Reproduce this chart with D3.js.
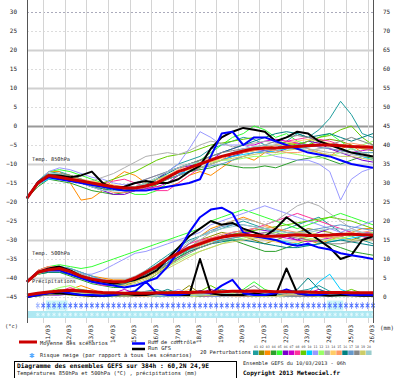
<!DOCTYPE html>
<html><head><meta charset="utf-8">
<script src="https://cdn.jsdelivr.net/npm/d3@7"></script>
<style>body{margin:0;background:#fff}svg{display:block}text{font-family:"DejaVu Sans Mono",monospace}</style>
</head><body><svg id="c" width="400" height="378"></svg>
<script>
// ---------- DATA ----------
const hours = d3.range(0, 385, 12);                // 10/03 06h + 0..384h
const dayLabels = ["11/03","12/03","13/03","14/03","15/03","16/03","17/03","18/03","19/03","20/03","21/03","22/03","23/03","24/03","25/03","26/03"];
const dayHours = d3.range(18, 385, 24);             // 00h of each day
const leftTicks = [30,25,20,15,10,5,0,-5,-10,-15,-20,-25,-30,-35,-40,-45];
const rightTicks = [75,70,65,60,55,50,45,40,35,30,25,20,15,10,5,0];
const memberColors = ["#1f9e9e","#8c8c00","#ff8c00","#2ca02c","#33ff33","#7a00cc","#cc00cc","#ff3399","#66cc00","#00ccff","#9999ff","#99ff66","#b0b0b0","#ffcc66","#ff9966","#008080","#6699cc","#888888","#cccc66","#99cccc"];

const t850Mean = [-19,-15,-13,-13.5,-14,-14.5,-15,-15.5,-16,-16.3,-16.3,-15.8,-15,-13.5,-12,-11,-10,-9,-8,-7.3,-6.6,-6,-5.8,-5.8,-5.6,-5.4,-5.2,-5,-5,-5.2,-5.4,-5.5,-5.6];
const t850Control = [-19,-15,-13.5,-14,-14.5,-15,-15.5,-16,-16.5,-17,-17,-17,-16.5,-16,-15.5,-15,-14,-8,-2,-1.5,-5,-3,-3,-4,-5,-6,-7,-7.5,-8,-9,-10,-10.5,-11];
const t850Gfs = [-19,-15,-13,-13,-13.5,-13,-12,-15,-16.5,-16,-15,-14.5,-15,-15,-14,-12,-10.5,-6,-3,-1.5,-0.5,-1,-1.5,-4,-3,-1.5,-2,-4,-5,-6,-7,-7.5,-8];
const t850Members = [
[-19,-15,-12.5,-12,-13,-14,-15,-16,-17,-17,-16,-15,-14,-12,-10,-9,-8,-6,-5,-4,-3,-3.5,-5,-6,-4,-2,-3,-1,2,6.5,3,-2,-3],
[-19,-15.5,-13.5,-14,-14.5,-15,-15.5,-16,-16.5,-17,-17,-16,-15,-14,-13,-12,-11,-10,-9,-8,-7,-6.5,-6,-5,-5.5,-6,-5,-4,-3.5,-4,-5,-6,-6.5],
[-19,-15,-12,-12,-15,-19.5,-19,-17,-14,-12,-13,-15,-16,-16,-15,-13,-12,-13,-11,-9,-8,-9,-7,-6,-5,-4.5,-6,-7,-8,-6,-5,-7,-8],
[-19,-16,-14,-14.5,-15,-16,-17,-17.5,-18,-17.5,-17,-16.5,-15.5,-14,-13,-12,-11.5,-11,-10,-10.5,-11,-11,-10.5,-11,-10,-9,-8.5,-8,-9,-10,-9,-8,-8.5],
[-19,-14.5,-12,-11.5,-12,-13,-14,-15,-16,-17,-18,-18,-17,-15,-13,-11,-9,-7,-5,-3,-2,0,-1,-3,-2,-4,-5,-3,-2,-4,-6,-7,-7],
[-19,-15,-13,-13,-14,-15,-16,-17,-18,-18,-17,-16,-14,-12,-11,-10.5,-10,-9,-8,-8,-7,-6,-6.5,-7,-6,-5,-4,-4.5,-6,-7,-8,-9,-9.5],
[-19,-15,-13.5,-14,-14,-14.5,-15,-15.5,-16,-16.5,-17,-16.5,-16,-15,-13,-11,-10,-9,-7,-6,-5,-5,-4,-3.5,-4,-4.5,-5,-5.5,-6,-6.5,-7,-6.5,-6],
[-19,-14.5,-12.5,-12.5,-13,-14,-15,-15,-14.5,-14,-15,-16,-17,-17,-15,-13,-11,-10,-9,-7,-6,-6,-5.5,-5,-4,-3.5,-3,-3.5,-4,-5,-5.5,-5,-5.5],
[-19,-15,-13,-12.5,-13,-14,-15,-15,-14,-13,-12,-10.5,-9,-8,-7.5,-7,-6,-5,-4.5,-4,-3.5,-3,-3,-4,-4.5,-5,-4,-3,-2.5,-1,0,-3,-5],
[-19,-15.5,-14,-14,-14.5,-15,-15.5,-16,-16.5,-16.5,-16,-15,-14,-13,-12.5,-12,-11,-10,-9,-8,-7.5,-7,-7,-6.5,-6,-6,-5.5,-5,-5,-6,-7,-8,-9],
[-19,-14.5,-12,-11,-11.5,-12.5,-13.5,-14,-15,-15.5,-15,-14,-13,-12,-10,-6,-1.5,-3,-5,-5,-5,-6,-7,-8,-8.5,-9,-9,-10,-12,-19.5,-14,-12,-11],
[-19,-15,-13,-13,-13.5,-14,-15,-16,-16,-16.5,-16.5,-16,-15,-13.5,-12,-11,-10,-9.5,-9,-9,-8.5,-8,-8,-7.5,-7,-7.5,-8,-8.5,-8,-7,-6,-5,-4],
[-19,-15,-13,-13.5,-14.5,-15,-14.5,-13.5,-12.5,-11,-9.5,-8,-7.5,-7,-7.5,-6.5,-5,-4,-4.5,-5.5,-5,-4.5,-4,-4.5,-5,-5.5,-6,-6.5,-7,-7,-7.5,-8,-8],
[-19,-15.5,-13.5,-13,-13.5,-14,-14.5,-15,-15.5,-16,-16,-15.5,-14.5,-13,-12,-11,-10,-9.5,-8.5,-7.5,-6.5,-6,-5.5,-5,-4.5,-4,-3.5,-4,-4.5,-5,-5.5,-6,-6],
[-19,-15,-13,-13.5,-14,-14.5,-15.5,-16.5,-17.5,-17.5,-17,-16,-14.5,-13,-11.5,-10,-9,-8.5,-8,-7.5,-7,-6.5,-6,-6.5,-7,-7,-6.5,-6,-5.5,-5,-4.5,-5,-5.5],
[-19,-14.5,-12.5,-13,-14,-15,-16,-16.5,-17,-17,-16.5,-15.5,-14,-12.5,-11,-10,-9,-8,-7,-6,-5,-4,-3,-2,-1.5,-2,-3,-2.5,-2,-3,-4,-3,-2],
[-19,-15,-13.5,-13.5,-14,-14.5,-15,-15.5,-16,-16,-16,-15.5,-15,-14,-13,-12,-11,-10.5,-10,-9,-8,-7,-6.5,-6,-5.5,-5,-5,-5.5,-6,-6.5,-7,-7,-7],
[-19,-15.5,-13,-12.5,-13,-14,-15,-15.5,-16,-16,-15,-14,-13,-12,-11,-10,-9,-8,-7,-6.5,-6,-5.5,-5,-4,-3,-2.5,-3,-4,-5,-4,-3,-4,-5],
[-19,-15,-13,-13,-13.5,-14.5,-15.5,-16,-16.5,-16.5,-16,-15,-14,-13,-12,-11.5,-11,-10,-9,-8.5,-8,-7.5,-7,-7,-6.5,-6,-6.5,-7,-7.5,-8,-8,-8.5,-9],
[-19,-15,-12.5,-12.5,-13.5,-15,-16,-17,-17,-16.5,-16,-15,-13.5,-12,-11,-10,-9.5,-9,-8,-7,-6,-5.5,-5,-5,-5.5,-6,-6.5,-6,-5.5,-5,-6,-7,-8]
];

const t500Mean = [-41,-38.5,-37.8,-37.5,-38.3,-39.5,-40.3,-40.8,-41,-41,-40,-38.5,-37,-35,-33.5,-32,-31,-30,-29.3,-28.8,-28.6,-28.8,-29,-29,-28.8,-28.6,-28.8,-28.8,-28.7,-28.5,-28.5,-28.6,-28.7];
const t500Control = [-41,-38.5,-38,-38,-39,-40,-41,-41.5,-42,-42.5,-42,-41,-40,-37,-33,-28,-24,-22,-21.5,-23,-28,-29,-29.5,-30,-31,-31.5,-31,-32,-32.5,-33.5,-34,-34.5,-35];
const t500Gfs = [-41,-38.5,-37.5,-37,-38,-39.5,-40.5,-41,-41.5,-41,-40.5,-39.5,-38,-35,-32,-29,-27,-25,-26,-25.5,-27,-28,-29,-27,-24,-26,-28,-30,-32,-35,-34,-30,-29];
const t500Members = [
[-41,-38.5,-37.5,-37,-38,-39,-40,-41,-41.5,-41,-40,-38,-36,-34,-32,-30,-29,-28,-27,-26,-25,-26,-27,-28,-27,-26,-25,-24,-26,-28,-29,-30,-31],
[-41,-39,-38,-38,-39,-40,-41,-41.5,-42,-42,-41,-39.5,-38,-36,-34,-32,-30,-29,-28,-28.5,-29,-30,-31,-30,-29,-28,-27,-27.5,-28,-29,-30,-29,-28],
[-41,-38,-37,-37,-37.5,-38.5,-39.5,-40,-40.5,-40.5,-40,-39,-37.5,-35,-33,-31,-29,-27,-26,-25,-24,-25,-26,-27,-28,-29,-30,-31,-30,-29,-28,-27,-27],
[-41,-39,-38.5,-38.5,-39.5,-40.5,-41.5,-42,-42.5,-42.5,-42,-41,-39,-37,-35,-33,-32,-31,-30,-30,-31,-32,-33,-33,-32,-31,-30,-30.5,-31,-32,-33,-33.5,-34],
[-41,-38,-37,-36.5,-37,-37.5,-37,-36,-35,-34,-33,-32,-31,-30,-29,-28,-27,-25,-24,-23,-22,-23,-24,-25,-26,-27,-26,-25,-24,-23,-24,-25,-26],
[-41,-38.5,-37.5,-37.5,-38.5,-39.5,-40.5,-41,-41.5,-41.5,-41,-40,-38.5,-37,-35,-33,-31.5,-30,-29,-28,-27.5,-27,-27.5,-28,-29,-30,-29,-28,-27,-27,-28,-29,-30],
[-41,-38.5,-38,-38,-38.5,-39,-40,-40.5,-41,-41,-40.5,-39.5,-38,-36,-34,-32,-30.5,-29.5,-29,-28.5,-28,-28,-28.5,-29,-29.5,-30,-30.5,-30,-29.5,-29,-28.5,-28,-28],
[-41,-38,-37,-37,-38,-39.5,-41,-42,-42,-41.5,-40.5,-39,-37,-35,-33,-31,-30,-29.5,-29,-29,-28,-27,-26,-25,-24,-23,-24,-25,-26,-27,-28,-29,-30],
[-41,-39,-38,-37.5,-38,-39,-40,-41,-41.5,-41.5,-41,-40,-38.5,-36.5,-34.5,-32.5,-31,-30,-29,-28.5,-28,-27.5,-27,-26.5,-26,-25.5,-25,-24.5,-24,-24.5,-25,-26,-27],
[-41,-38.5,-37.5,-37,-37.5,-38.5,-39.5,-40.5,-41,-41,-40,-38.5,-37,-35.5,-34,-32.5,-31.5,-30.5,-30,-29.5,-29,-29,-29.5,-30,-30.5,-31,-31.5,-31,-30.5,-30,-29.5,-29,-29],
[-41,-38,-37.5,-37.5,-38,-39,-39,-38,-36.5,-35,-33.5,-33,-32,-31,-30,-29,-28,-26,-25,-24,-23,-22,-21,-22,-23,-24,-25,-26,-27,-28,-27,-26,-25],
[-41,-39,-38,-38,-38.5,-39.5,-40.5,-41,-41.5,-41.5,-41,-40,-38.5,-37,-35.5,-34,-33,-32,-31,-30,-29.5,-29,-28.5,-28,-28.5,-29,-29.5,-30,-30,-29.5,-29,-28.5,-28],
[-41,-38.5,-37.5,-37.5,-38.5,-39.5,-40.5,-41,-41,-40.5,-39.5,-38,-36.5,-35,-33.5,-32,-30,-28,-26,-25,-24.5,-25,-26,-25,-23,-21,-20,-21,-23,-25,-27,-28,-29],
[-41,-38.5,-38,-38,-38.5,-39.5,-40.5,-41,-41.5,-41.5,-41,-40,-38.5,-37,-35,-33,-31.5,-30.5,-29.5,-29,-29,-29.5,-30,-30.5,-31,-30.5,-30,-29.5,-29,-28.5,-28,-28.5,-29],
[-41,-38,-37,-37,-38,-39,-40,-40.5,-41,-41,-40.5,-39.5,-38,-36,-34,-32,-30.5,-29.5,-28.5,-28,-27.5,-27,-26.5,-27,-27.5,-28,-28.5,-29,-29.5,-29,-28.5,-28,-27.5],
[-41,-39,-38.5,-38.5,-39,-40,-41,-41.5,-42,-41.5,-40.5,-39,-37.5,-36,-34.5,-33,-32,-31,-30.5,-30,-30,-30.5,-31,-31.5,-32,-32,-31.5,-31,-30.5,-30,-30.5,-31,-31.5],
[-41,-38.5,-37.5,-37,-37.5,-38.5,-39.5,-40.5,-41,-41,-40.5,-39.5,-38,-36,-33.5,-31,-29,-27.5,-26.5,-26,-26,-26.5,-27,-27.5,-28,-28,-27.5,-27,-26.5,-26,-26.5,-27,-27.5],
[-41,-38.5,-37.5,-37.5,-38,-39,-40,-40.5,-41,-41,-40.5,-39.5,-38,-36.5,-35,-33.5,-32,-31,-30,-29.5,-29,-28.5,-28,-28.5,-29,-29.5,-30,-30.5,-31,-31,-30.5,-30,-29.5],
[-41,-39,-38,-38,-39,-40,-41,-41.5,-42,-42,-41.5,-40.5,-39,-37.5,-36,-34.5,-33,-32,-31,-30.5,-30,-29.5,-29,-29,-28.5,-28,-28,-28.5,-29,-29.5,-30,-30,-30],
[-41,-38.5,-37.5,-37.5,-38,-39,-40,-41,-41.5,-41,-40,-38.5,-36.5,-34.5,-32.5,-30.5,-29,-28,-27,-26.5,-26,-26.5,-27,-27.5,-28,-28.5,-28,-27.5,-27,-27,-27.5,-28,-28.5]
];

const precipMean = [0.5,1,1.3,1.6,1.8,1.6,1.4,1.2,1.1,1,1,1,1.1,1.1,1.2,1.2,1.3,1.3,1.4,1.5,1.5,1.6,1.5,1.4,1.4,1.3,1.3,1.2,1.2,1.2,1.1,1.1,1.1];
const precipControl = [0,0.5,1,1.5,1,0.5,0.5,0.3,0.5,1,1.5,4,1,0.5,0.5,1,1.5,1,3,4.5,1,0.5,0.5,1,2,1,0.5,0.5,1,1,0.5,0.5,0.5];
const precipGfs = [0,0.5,1,1,0.8,0.5,0.3,0.3,0.5,0.8,0.5,0.5,1,1,0.5,0.5,10,1,0.5,0.5,0.5,1,0.5,0.5,7.5,1,0.5,0.5,0.3,0.5,0.5,0.3,0.3];
const precipMembers = [
[0,0.3,0.8,1.2,1.5,1,0.5,0.3,0.2,0.3,0.8,1.5,2,1,0.5,0.3,0.5,1,2,1.5,1,0.5,0.3,0.5,1,1.5,2,3,1.5,1,0.5,0.5,0.3],
[0,0.5,1,0.8,0.5,0.3,0.2,0.2,0.3,0.5,0.5,0.3,0.2,0.5,1,3,1,0.5,0.3,0.2,0.5,1,0.8,0.5,0.3,0.5,1,0.8,0.5,0.3,0.2,0.3,0.5],
[0,0.4,0.6,1,2,3,2,1,0.5,0.3,0.2,0.2,0.5,1,0.5,0.3,0.2,0.5,0.8,0.5,0.3,0.3,0.5,1,2,1,0.5,0.3,0.2,0.3,0.5,0.8,1],
[0,0.3,0.5,0.8,1,0.8,0.5,0.3,0.5,1,1.5,1,0.5,0.3,0.2,0.3,0.5,0.8,0.5,0.3,0.2,0.5,1,0.5,0.3,0.2,0.3,0.5,0.3,0.2,0.3,0.5,0.3],
[0,0.6,1.2,2,1.5,1,0.5,0.3,0.2,0.2,0.3,0.5,1,1.5,1,0.5,0.3,0.2,0.5,1,2,4,2,1,0.5,0.3,0.5,1,1.5,1,0.5,0.3,0.3],
[0,0.3,0.5,0.5,0.8,1,1.5,1,0.5,0.3,0.2,0.3,0.5,0.3,0.2,0.3,1,2,1,0.5,0.3,0.2,0.3,0.5,0.8,0.5,0.3,0.2,0.3,0.5,0.3,0.2,0.3],
[0,0.5,0.8,1,1.2,0.8,0.5,0.5,1,2,1,0.5,0.3,0.5,1,0.5,0.3,0.2,0.3,0.5,1,1.5,1,0.5,0.3,0.5,1,2,1,0.5,0.3,0.5,0.8],
[0,0.4,1,1.5,2.5,1.5,1,0.5,0.3,0.2,0.3,0.5,0.8,0.5,0.3,0.5,1,0.8,0.5,0.3,0.5,0.8,1.2,0.8,0.5,0.3,0.2,0.3,0.5,1,0.8,0.5,0.3],
[0,0.3,0.6,1,1.5,2,1.5,1,0.5,0.3,0.5,0.8,0.5,0.3,0.2,0.5,1.5,3,1.5,0.5,0.3,0.2,0.3,0.5,1,0.5,0.3,0.2,0.5,1,2,1,0.5],
[0,0.5,1,1.2,1,0.8,0.5,0.3,0.2,0.3,0.5,0.3,0.2,0.3,0.5,1,0.5,0.3,0.2,0.5,0.8,0.5,0.3,0.2,0.3,0.5,1,4,6,2,1,0.5,0.3],
[0,0.3,0.5,1,1.5,1,0.8,0.5,0.5,1,0.5,0.3,0.5,1,2,1,0.5,0.3,0.2,0.3,0.5,1,0.5,0.3,0.5,0.8,0.5,0.3,0.2,0.3,0.5,0.3,0.2],
[0,0.6,1.5,2.5,3,2,1,0.5,0.3,0.2,0.3,0.5,1,0.5,0.3,0.2,0.3,0.5,1,0.8,0.5,0.3,0.5,1,1.5,1,0.5,0.3,0.2,0.3,0.5,0.8,0.5],
[0,0.4,0.8,1,1.2,1,0.8,0.5,0.3,0.5,1,1.5,1,0.5,0.3,0.5,0.8,0.5,0.3,0.2,0.3,0.5,0.8,1,0.5,0.3,0.5,0.8,0.5,0.3,0.2,0.3,0.5],
[0,0.3,0.5,0.8,1,1.5,1,0.5,0.3,0.2,0.3,0.2,0.3,0.5,1,2,1,0.5,0.3,0.5,1,0.5,0.3,0.2,0.3,0.5,0.3,0.5,1,0.5,0.3,0.2,0.3],
[0,0.5,1,1.5,2,1.5,1,0.8,0.5,0.3,0.5,1,0.5,0.3,0.2,0.3,0.5,1,0.5,0.3,0.2,0.3,0.5,0.8,0.5,0.3,0.5,1,0.8,0.5,0.3,0.5,0.5],
[0,0.3,0.6,0.8,1,0.8,0.5,0.3,0.2,0.3,0.5,0.8,1,2,1,0.5,0.3,0.5,1,1.5,1,0.5,0.3,0.5,1,2,5,2,1,0.5,0.3,0.3,0.5],
[0,0.5,0.8,1.2,1.5,1.2,0.8,0.5,0.3,0.5,0.8,0.5,0.3,0.2,0.3,0.5,0.8,1,0.8,0.5,0.3,0.5,1,0.5,0.3,0.2,0.3,0.5,0.3,0.5,1,0.5,0.3],
[0,0.3,0.5,1,1.5,2,1,0.5,0.3,0.2,0.3,0.5,0.8,0.5,0.3,0.5,1,0.5,0.3,0.5,1.5,3,1,0.5,0.3,0.2,0.3,0.5,0.8,0.5,0.3,0.2,0.3],
[0,0.4,0.7,1,1.2,1,0.7,0.5,0.3,0.3,0.5,0.7,0.5,0.3,0.5,0.8,0.5,0.3,0.5,0.8,0.5,0.3,0.2,0.3,0.5,0.8,0.5,0.3,0.5,0.8,0.5,0.3,0.3],
[0,0.5,1,1.5,1.2,0.8,0.5,0.3,0.5,0.8,1,0.8,0.5,0.3,0.2,0.3,0.5,0.8,1,0.8,0.5,0.3,0.5,0.8,1,0.8,0.5,0.3,0.2,0.3,0.5,0.5,0.5]
];
// snow risk (%) every 6h, 10/03 06h .. 26/03 06h
const snowHours = d3.range(0, 385, 6);
const snowRisk = [0,0,60,100,100,100,100,100,100,100,100,100,100,100,100,100,100,100,100,100,100,100,100,100,100,100,100,100,100,100,100,100,100,100,100,100,100,100,100,100,100,100,100,100,100,100,100,100,100,100,100,100,100,100,100,100,100,100,100,100,100,100,100,100,100];
// highlighted (high-confidence) snow steps
const snowHighlight = [4,5,6,7,56,57,58];

// ---------- CHART ----------
const svg = d3.select("#c");
const x = d3.scaleLinear().domain([0, 384]).range([27, 373]);
const yL = d3.scaleLinear().domain([-45, 30]).range([297, 12]);
const yR = d3.scaleLinear().domain([0, 75]).range([297, 12]);
const plotTop = 0, plotBottom = 323;

// grid: horizontal
const g = svg.append("g");
leftTicks.forEach(v => {
  const y = Math.round(yL(v)) + 0.5;
  let stroke = "#dcdcdc", w = 1, dash = "2,2";
  if (v % 10 === 0) { stroke = "#d0d0d0"; w = 2; dash = null; }
  if (v === 0) { stroke = "#999"; w = 2; }
  if (v === 30 || v === -20) { stroke = "#aab"; w = 1; dash = "2,2"; }
  g.append("line").attr("x1", 27).attr("x2", 373).attr("y1", y).attr("y2", y)
    .attr("stroke", stroke).attr("stroke-width", w).attr("stroke-dasharray", dash);
});
// grid: vertical day lines
dayHours.forEach(h => {
  const xx = Math.round(x(h)) + 0.5;
  g.append("line").attr("x1", xx).attr("x2", xx).attr("y1", plotTop).attr("y2", plotBottom)
    .attr("stroke", "#d4d4d4").attr("stroke-width", 1);
});

// snow rows
const snowG = svg.append("g");
snowG.append("rect").attr("x", 27).attr("y", 311).attr("width", 346).attr("height", 7).attr("fill", "#aee8f2");
snowHighlight.forEach(i => {
  snowG.append("rect").attr("x", x(snowHours[i]) - 2.7).attr("y", 300.5).attr("width", 5.4).attr("height", 10).attr("fill", "#c8f4f8");
});
snowHours.forEach((h, i) => {
  if (snowRisk[i] <= 0) return;
  snowG.append("path")
    .attr("d", d3.symbol(d3.symbolAsterisk, 20)())
    .attr("transform", `translate(${x(h)},305.5) scale(0.8,1.3)`)
    .attr("fill", "none").attr("stroke", snowRisk[i] >= 100 ? "#4a6cff" : "#9ab0ff").attr("stroke-width", 0.8);
  snowG.append("path")
    .attr("d", d3.symbol(d3.symbolAsterisk, 10)())
    .attr("transform", `translate(${x(h)},314.5)`)
    .attr("fill", "none").attr("stroke", "#e8fbff").attr("stroke-width", 0.8);
});

// lines
const lineL = d3.line().x((d, i) => x(hours[i])).y(d => yL(d));
const lineR = d3.line().x((d, i) => x(hours[i])).y(d => yR(d));
const lines = svg.append("g").attr("fill", "none").attr("stroke-linejoin", "round");
[[t850Members, lineL], [t500Members, lineL], [precipMembers, lineR]].forEach(([set, ln]) => {
  set.forEach((s, k) => lines.append("path").attr("d", ln(s)).attr("stroke", memberColors[k]).attr("stroke-width", 1));
});
[[t850Gfs, lineL], [t500Gfs, lineL], [precipGfs, lineR]].forEach(([s, ln]) =>
  lines.append("path").attr("d", ln(s)).attr("stroke", "#000").attr("stroke-width", 2));
[[t850Control, lineL], [t500Control, lineL], [precipControl, lineR]].forEach(([s, ln]) =>
  lines.append("path").attr("d", ln(s)).attr("stroke", "#0000ff").attr("stroke-width", 2));
[[t850Mean, lineL], [t500Mean, lineL], [precipMean, lineR]].forEach(([s, ln]) =>
  lines.append("path").attr("d", ln(s)).attr("stroke", "#cc0000").attr("stroke-width", 3));

// frame
svg.append("line").attr("x1", 27.5).attr("x2", 27.5).attr("y1", 0).attr("y2", plotBottom).attr("stroke", "#555");
svg.append("line").attr("x1", 373.5).attr("x2", 373.5).attr("y1", 0).attr("y2", plotBottom).attr("stroke", "#555");

// axes
const axL = svg.append("g").attr("transform", "translate(27,0)")
  .call(d3.axisLeft(yL).tickValues(leftTicks).tickSize(0).tickPadding(10));
const axR = svg.append("g").attr("transform", "translate(373,0)")
  .call(d3.axisRight(yR).tickValues(rightTicks).tickSize(0).tickPadding(10));
[axL, axR].forEach(a => { a.select(".domain").remove(); a.selectAll("text").attr("font-size", 6).attr("fill", "#222").attr("font-family", "DejaVu Sans Mono"); });

const axB = svg.append("g").attr("transform", `translate(0,${plotBottom})`)
  .call(d3.axisBottom(x).tickValues(dayHours).tickFormat((d, i) => dayLabels[i]).tickSize(0));
axB.select(".domain").remove();
axB.selectAll("text").attr("font-size", 6).attr("fill", "#222").attr("font-family", "DejaVu Sans Mono")
  .attr("text-anchor", "end").attr("dy", "0.35em")
  .attr("transform", "translate(4,2) rotate(-90)").attr("x", 0).attr("y", 0);

// text helpers (font size chosen so natural width ~ target width)
function txt(xx, yy, s, len, opts = {}) {
  const size = opts.size || len / (s.length * 0.602);
  const t = svg.append("text").attr("x", xx).attr("y", yy).text(s)
    .attr("font-size", size.toFixed(2)).attr("fill", opts.fill || "#222")
    .attr("font-weight", opts.bold ? "bold" : "normal").attr("dominant-baseline", "middle")
    .attr("textLength", len).attr("lengthAdjust", "spacingAndGlyphs");
  if (opts.anchor) t.attr("text-anchor", opts.anchor);
  return t;
}
txt(32, 160, "Temp. 850hPa", 38);
txt(32, 254, "Temp. 500hPa", 38);
txt(32, 282, "Précipitations", 44);
txt(5, 327, "(°c)", 13);
txt(380, 328, "(mm)", 14);

// legend
svg.append("line").attr("x1", 19).attr("x2", 37).attr("y1", 342).attr("y2", 342).attr("stroke", "#cc0000").attr("stroke-width", 3);
txt(40, 344, "Moyenne des scénarios", 68);
svg.append("line").attr("x1", 132).attr("x2", 145).attr("y1", 343.5).attr("y2", 343.5).attr("stroke", "#0000ff").attr("stroke-width", 2.5);
txt(148, 343, "Run de contrôle", 48);
svg.append("line").attr("x1", 132).attr("x2", 145).attr("y1", 349).attr("y2", 349).attr("stroke", "#000").attr("stroke-width", 2.5);
txt(148, 349, "Run GFS", 23);
svg.append("path").attr("d", d3.symbol(d3.symbolAsterisk, 18)()).attr("transform", "translate(32,355.5)")
  .attr("fill", "none").attr("stroke", "#4da6ff").attr("stroke-width", 1.2);
txt(40, 356, "Risque neige (par rapport à tous les scénarios)", 152);
txt(200, 353, "20 Perturbations", 51);
memberColors.forEach((c, i) => {
  const bx = 253 + i * 5.95;
  svg.append("rect").attr("x", bx).attr("y", 350.5).attr("width", 5.5).attr("height", 4.5).attr("fill", c);
  svg.append("text").attr("x", bx + 2.9).attr("y", 347.5).attr("text-anchor", "middle")
    .attr("font-size", 3.3).attr("fill", "#444").text(String(i + 1).padStart(2, "0"));
});

// title box
svg.append("rect").attr("x", 14.5).attr("y", 361.5).attr("width", 222).attr("height", 20).attr("fill", "none").attr("stroke", "#000");
txt(17, 366.5, "Diagramme des ensembles GEFS sur 384h : 60,2N 24,9E", 192, { bold: true, fill: "#000" });
txt(17, 373.5, "Températures 850hPa et 500hPa (°C) , précipitations (mm)", 180);
txt(243, 363.5, "Ensemble GEFS du 10/03/2013 - 06h", 103);
txt(243, 373.5, "Copyright 2013 Meteociel.fr", 97, { bold: true, fill: "#000" });
</script></body></html>
